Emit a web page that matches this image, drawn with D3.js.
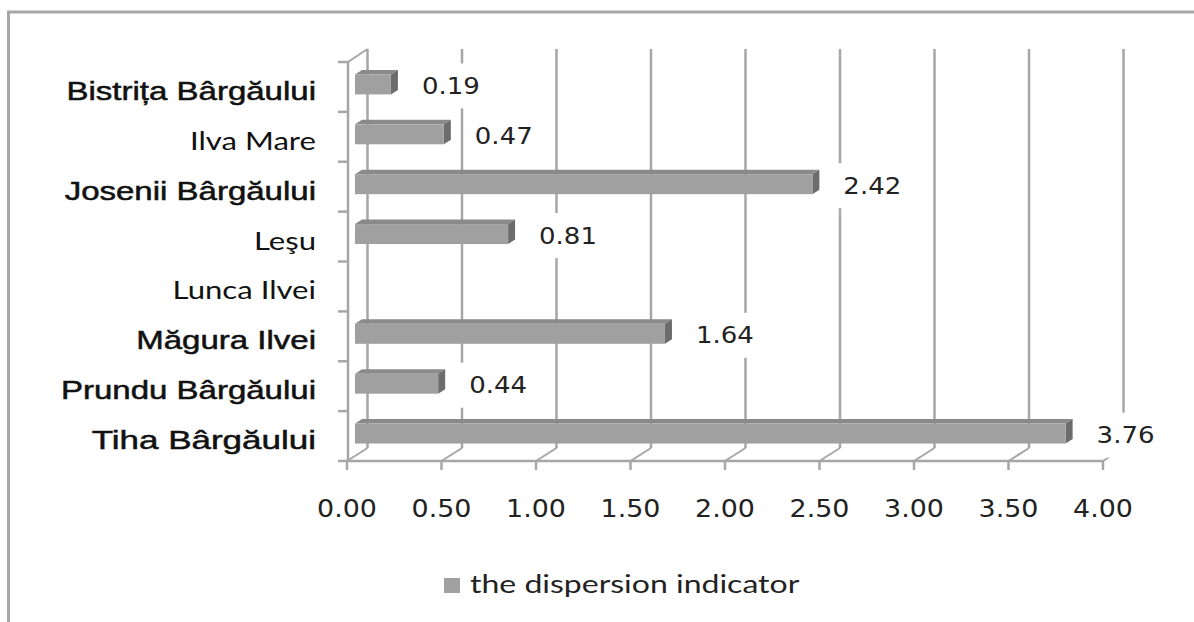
<!DOCTYPE html>
<html><head><meta charset="utf-8">
<script src="https://cdn.jsdelivr.net/npm/d3@7"></script>
<style>
body{margin:0;background:#fff;}
svg{display:block;}
</style></head>
<body><svg id="chart" width="1194" height="622"></svg>
<script>
// ---- data ----
const categories = ["Bistrița Bârgăului","Ilva Mare","Josenii Bârgăului","Leşu","Lunca Ilvei","Măgura Ilvei","Prundu Bârgăului","Tiha Bârgăului"];
const values = [0.19, 0.47, 2.42, 0.81, null, 1.64, 0.44, 3.76];
const labelStyle = ["bold","light","bold","light","light","bold","bold","big"];
const tickValues = [0, 0.5, 1, 1.5, 2, 2.5, 3, 3.5, 4];
const seriesName = "the dispersion indicator";

// ---- layout ----
const svg = d3.select("#chart");
const frontX0 = 347, frontX1 = 347 + 8*94.5;
const frontTop = 62, frontBottom = 461;
const depthDX = 20.5, depthDY = -13;
const gridColor = "#a6a6a6";

const xFront = d3.scaleLinear().domain([0,4]).range([frontX0, frontX1]);
const xBack = d3.scaleLinear().domain([0,4]).range([frontX0+depthDX, frontX1+depthDX]);
const barOff = 8, barDX = 7, barDY = -4.5;
const xBar = d3.scaleLinear().domain([0,4]).range([frontX0+barOff, frontX1+barOff]);

const yBand = d3.scaleBand().domain(categories).range([frontTop, frontBottom]).paddingInner(0).paddingOuter(0);
const yBar = d3.scaleBand().domain(categories).range([frontTop-2.5, frontBottom-2.5]).paddingInner(0.6).paddingOuter(0.3);

function stretch(sel, k){
  sel.each(function(){
    const w = this.getComputedTextLength();
    this.setAttribute("textLength", w*k);
    this.setAttribute("lengthAdjust","spacingAndGlyphs");
  });
}

// outer border
svg.append("rect").attr("x",8.5).attr("y",12).attr("width",1300).attr("height",800)
  .attr("fill","none").attr("stroke",gridColor).attr("stroke-width",3);

// back gridlines
const g = svg.append("g");
g.selectAll("line.grid").data(tickValues).join("line")
  .attr("x1",d=>xBack(d)).attr("x2",d=>xBack(d))
  .attr("y1",frontTop+depthDY).attr("y2",frontBottom+depthDY)
  .attr("stroke",gridColor).attr("stroke-width",2.5);
// floor diagonals
g.selectAll("line.floor").data(tickValues).join("line")
  .attr("x1",d=>xBack(d)).attr("y1",frontBottom+depthDY)
  .attr("x2",d=>xFront(d)).attr("y2",frontBottom)
  .attr("stroke",gridColor).attr("stroke-width",2);
// front floor edge
g.append("line").attr("x1",frontX0).attr("x2",frontX1).attr("y1",frontBottom).attr("y2",frontBottom)
  .attr("stroke",gridColor).attr("stroke-width",2.5);
// bottom ticks
g.selectAll("line.xt").data(tickValues).join("line")
  .attr("x1",d=>xFront(d)).attr("x2",d=>xFront(d))
  .attr("y1",frontBottom).attr("y2",frontBottom+9)
  .attr("stroke",gridColor).attr("stroke-width",2.5);
// left wall
g.append("line").attr("x1",frontX0+1).attr("x2",frontX0+1).attr("y1",frontTop).attr("y2",frontBottom)
  .attr("stroke",gridColor).attr("stroke-width",2.5);
g.append("line").attr("x1",frontX0+1).attr("y1",frontTop).attr("x2",xBack(0)).attr("y2",frontTop+depthDY)
  .attr("stroke",gridColor).attr("stroke-width",2);
const bounds = categories.map(c=>yBand(c)).concat([frontBottom]);
g.selectAll("line.yt").data(bounds).join("line")
  .attr("x1",frontX0-9).attr("x2",frontX0+1).attr("y1",d=>d).attr("y2",d=>d)
  .attr("stroke",gridColor).attr("stroke-width",2.5);

// data
const data = categories.map((c,i)=>({c, v:values[i], s:labelStyle[i]}));
const withVal = data.filter(d=>d.v!==null);

// value labels (with white boxes)
const lab = svg.append("g");
const labTexts = lab.selectAll("text").data(withVal).join("text")
  .attr("x",d=>xBar(d.v)+barDX+24)
  .attr("y",d=>yBar(d.c)+yBar.bandwidth()/2+9.5)
  .attr("font-family","DejaVu Sans").attr("font-size",23).attr("fill","#222")
  .text(d=>d3.format(".2f")(d.v));
stretch(labTexts, 1.13);
labTexts.each(function(d){
  const b = this.getBBox();
  lab.insert("rect","text").attr("x",b.x-10).attr("y",yBar(d.c)+yBar.bandwidth()/2-21)
    .attr("width",b.width+20).attr("height",45).attr("fill","#fff");
});

// bars
const bars = svg.append("g");
const bg = bars.selectAll("g").data(withVal).join("g");
bg.append("polygon").attr("fill","#8a8a8a").attr("points",d=>{
  const x0=xBar(0), x1=xBar(d.v), y0=yBar(d.c);
  return [[x0,y0],[x0+barDX,y0+barDY],[x1+barDX,y0+barDY],[x1,y0]].join(" ");
});
bg.append("polygon").attr("fill","#6c6c6c").attr("points",d=>{
  const x1=xBar(d.v), y0=yBar(d.c), y1=y0+yBar.bandwidth();
  return [[x1,y0],[x1+barDX,y0+barDY],[x1+barDX,y1+barDY],[x1,y1]].join(" ");
});
bg.append("rect").attr("fill","#a0a0a0")
  .attr("x",xBar(0)).attr("y",d=>yBar(d.c))
  .attr("width",d=>xBar(d.v)-xBar(0)).attr("height",yBar.bandwidth());

// tick labels
const tl = svg.append("g").selectAll("text").data(tickValues).join("text")
  .attr("x",d=>xFront(d)).attr("y",517).attr("text-anchor","middle")
  .attr("font-family","DejaVu Sans").attr("font-size",24).attr("fill","#222")
  .text(d=>d3.format(".2f")(d));
stretch(tl, 1.12);

// category labels
const cl = svg.append("g").selectAll("text").data(data).join("text")
  .attr("x",316).attr("y",d=>yBand(d.c)+yBand.bandwidth()/2+13)
  .attr("text-anchor","end").attr("fill","#111")
  .attr("font-family",d=>d.s==="light"?"Lato":"Liberation Sans")
  .attr("font-weight","normal")
  .attr("stroke",d=>d.s==="light"?"none":"#111")
  .attr("stroke-width",d=>d.s==="light"?0:0.5)
  .attr("font-size",d=>d.s==="big"?26.5:(d.s==="light"?24.5:25))
  .text(d=>d.c);
stretch(cl.filter(d=>d.s!=="light"), 1.32);
stretch(cl.filter(d=>d.s==="light"), 1.27);

// legend
svg.append("rect").attr("x",444).attr("y",578).attr("width",16).attr("height",15).attr("fill","#a0a0a0");
const lt = svg.append("text").attr("x",470).attr("y",593)
  .attr("font-family","Lato").attr("font-size",25).attr("fill","#222").text(seriesName);
stretch(lt, 1.28);
</script></body></html>
